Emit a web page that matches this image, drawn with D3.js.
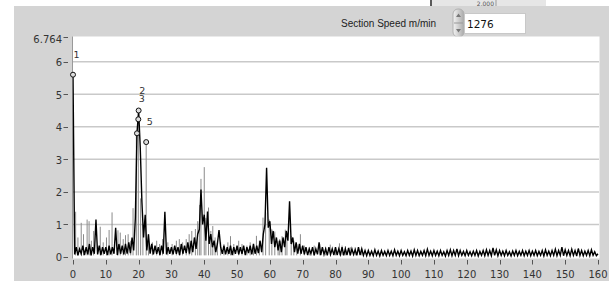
<!DOCTYPE html>
<html>
<head>
<meta charset="utf-8">
<script src="https://cdn.jsdelivr.net/npm/d3@7"></script>
<style>
  body { margin: 0; background: #fff; }
  svg { display: block; }
</style>
</head>
<body>
<div id="chart"></div>
<script>
// spectrum trace, one sample every 0.5 from 0 to 160
const freqStep = 0.5;
const blackAmp = [
  5.6, 0.08, 0.3, 0.05, 0.25, 0.1, 0.35, 0.06, 0.3, 0.08, 0.4, 0.05, 0.3, 0.1, 1.15, 0.08, 0.35, 0.06, 0.3, 0.1,
  0.3, 0.06, 0.35, 0.08, 0.3, 0.1, 0.9, 0.06, 0.4, 0.1, 0.35, 0.08, 0.4, 0.1, 0.45, 0.12, 0.6, 0.2, 1.2, 3.8,
  4.5, 3.35, 1.7, 0.6, 1.3, 0.2, 0.7, 0.1, 0.4, 0.08, 0.35, 0.1, 0.3, 0.06, 0.35, 0.1, 1.39, 0.08, 0.3, 0.1,
  0.3, 0.08, 0.35, 0.1, 0.3, 0.06, 0.4, 0.1, 0.35, 0.12, 0.45, 0.1, 0.5, 0.15, 0.6, 0.25, 0.7, 0.85, 2.07, 1.0,
  1.3, 0.5, 1.4, 0.4, 0.7, 0.3, 0.5, 0.15, 0.4, 0.83, 0.3, 0.1, 0.35, 0.08, 0.3, 0.1, 0.35, 0.06, 0.3, 0.1,
  0.35, 0.08, 0.3, 0.1, 0.35, 0.06, 0.3, 0.12, 0.35, 0.08, 0.4, 0.1, 0.35, 0.12, 0.5, 0.15, 0.7, 1.0, 2.74, 0.9,
  1.1, 0.4, 0.8, 0.3, 0.6, 0.2, 0.5, 0.15, 0.6, 0.3, 0.8, 0.5, 1.71, 0.4, 0.6, 0.15, 0.45, 0.1, 0.4, 0.1,
  0.35, 0.08, 0.3, 0.06, 0.25, 0.1, 0.3, 0.05, 0.25, 0.08, 0.45, 0.06, 0.3, 0.08, 0.25, 0.05, 0.3, 0.08, 0.25, 0.06,
  0.3, 0.06, 0.25, 0.08, 0.3, 0.05, 0.25, 0.06, 0.28, 0.05, 0.25, 0.08, 0.22, 0.05, 0.3, 0.06, 0.25, 0.05, 0.2, 0.04,
  0.2, 0.05, 0.18, 0.04, 0.22, 0.05, 0.18, 0.03, 0.2, 0.05, 0.17, 0.04, 0.2, 0.05, 0.18, 0.04, 0.22, 0.05, 0.18, 0.04,
  0.2, 0.05, 0.16, 0.04, 0.2, 0.05, 0.18, 0.03, 0.22, 0.05, 0.2, 0.04, 0.17, 0.05, 0.2, 0.04, 0.24, 0.05, 0.18, 0.04,
  0.2, 0.05, 0.18, 0.04, 0.2, 0.05, 0.16, 0.03, 0.2, 0.05, 0.22, 0.04, 0.2, 0.05, 0.25, 0.04, 0.2, 0.05, 0.17, 0.04,
  0.2, 0.05, 0.16, 0.04, 0.18, 0.05, 0.2, 0.03, 0.17, 0.05, 0.2, 0.04, 0.22, 0.05, 0.2, 0.04, 0.28, 0.05, 0.22, 0.04,
  0.2, 0.05, 0.18, 0.04, 0.2, 0.05, 0.16, 0.03, 0.18, 0.05, 0.2, 0.04, 0.17, 0.05, 0.2, 0.04, 0.18, 0.05, 0.2, 0.04,
  0.18, 0.05, 0.2, 0.04, 0.17, 0.05, 0.2, 0.03, 0.22, 0.05, 0.18, 0.04, 0.2, 0.05, 0.24, 0.04, 0.2, 0.05, 0.3, 0.04,
  0.22, 0.05, 0.2, 0.04, 0.24, 0.05, 0.2, 0.03, 0.26, 0.05, 0.2, 0.04, 0.18, 0.05, 0.2, 0.04, 0.22, 0.05, 0.16, 0.04, 0.1
];

// second (grey) trace, its spikes
const greyFreq = [
  0.8, 1.5, 2.5, 3.2, 4.3, 4.9, 5.6, 6.3, 8.3, 9.2, 10.2, 11.0, 11.9, 13.7, 14.4, 15.3, 16.0, 16.8, 17.6, 18.3,
  19.3, 19.9, 20.6, 21.3, 22.3, 23.0, 24.2, 25.5, 26.4, 27.3, 28.9, 30.2, 31.5, 32.4, 33.4, 34.5, 35.4, 36.2, 37.3, 38.0,
  38.6, 39.0, 40.0, 40.5, 41.3, 42.0, 42.6, 43.3, 44.0, 45.0, 46.0, 47.2, 48.0, 49.0, 50.5, 51.5, 53.0, 54.0, 55.0, 55.9,
  56.8, 57.9, 58.7, 59.8, 60.6, 61.5, 62.5, 63.0, 63.7, 64.7, 65.2, 66.5, 67.3, 68.2, 69.3, 70.5, 72.0, 73.5, 75.2, 77.0,
  78.4, 80.0, 81.2, 82.0, 83.0, 84.5, 86.0, 88.0
];
const greyAmp = [
  1.39, 0.6, 1.05, 0.7, 1.15, 1.1, 0.5, 0.8, 0.93, 0.45, 0.6, 0.83, 1.37, 0.82, 0.75, 0.55, 0.67, 0.7, 0.5, 1.5,
  3.77, 4.23, 1.8, 1.0, 3.53, 0.7, 0.45, 0.5, 0.4, 0.55, 0.45, 0.4, 0.5, 0.55, 0.45, 0.55, 0.7, 0.8, 0.86, 1.1,
  1.6, 2.4, 2.76, 1.2, 1.52, 0.8, 0.95, 0.6, 0.5, 0.45, 0.4, 0.45, 0.64, 0.4, 0.5, 0.4, 0.35, 0.45, 0.4, 0.65,
  0.5, 1.21, 1.36, 1.15, 0.85, 0.78, 0.5, 0.55, 0.64, 0.84, 0.75, 0.65, 0.5, 0.4, 0.7, 0.35, 0.3, 0.35, 0.4, 0.3,
  0.38, 0.3, 0.42, 0.35, 0.33, 0.3, 0.3, 0.25
];

const markerFreq = [0, 20, 19.9, 19.5, 22.3];
const markerAmp = [5.6, 4.5, 4.23, 3.8, 3.53];
const markerLabel = ["1", "2", "3", "", "5"];

const xTicks = [0, 10, 20, 30, 40, 50, 60, 70, 80, 90, 100, 110, 120, 130, 140, 150, 160];
const yTicks = [0, 1, 2, 3, 4, 5, 6];
const yMax = 6.764;
const speedLabel = "Section Speed m/min";
const speedValue = "1276";

const width = 609, height = 281;

const svg = d3.select("#chart")
  .append("svg")
  .attr("width", width)
  .attr("height", height);

// grey front panel
svg.append("rect")
  .attr("x", 14).attr("y", 6)
  .attr("width", width - 14).attr("height", height - 6)
  .attr("fill", "#d4d4d4");

// piece of the other control showing above the panel
svg.append("rect")
  .attr("x", 432).attr("y", 0).attr("width", 114).attr("height", 6)
  .attr("fill", "#e6e6e6");
svg.append("line")
  .attr("x1", 431).attr("x2", 431).attr("y1", 0).attr("y2", 6)
  .attr("stroke", "#222").attr("stroke-width", 1.5);
svg.append("text")
  .attr("x", 494).attr("y", 5.5)
  .attr("text-anchor", "end")
  .style("font", "6px 'DejaVu Sans'")
  .attr("fill", "#555")
  .text("2.000");
svg.append("line")
  .attr("x1", 496).attr("x2", 496).attr("y1", 0).attr("y2", 6)
  .attr("stroke", "#999");

// speed control
svg.append("text")
  .attr("x", 341).attr("y", 27)
  .style("font", "10px 'Liberation Sans'")
  .attr("fill", "#222")
  .text(speedLabel);

const grad = svg.append("defs").append("linearGradient")
  .attr("id", "spin").attr("x1", 0).attr("x2", 1);
grad.append("stop").attr("offset", 0).attr("stop-color", "#f4f4f4");
grad.append("stop").attr("offset", 1).attr("stop-color", "#a9a9a9");

svg.append("rect")
  .attr("x", 453).attr("y", 9).attr("width", 11).attr("height", 28).attr("rx", 5)
  .attr("fill", "url(#spin)").attr("stroke", "#b0b0b0");
svg.append("line")
  .attr("x1", 454).attr("x2", 463).attr("y1", 23).attr("y2", 23)
  .attr("stroke", "#999");
svg.append("path")
  .attr("d", "M456,17 L458.5,13.5 L461,17 Z M456,29 L458.5,32.5 L461,29 Z")
  .attr("fill", "#777");

svg.append("rect")
  .attr("x", 464.5).attr("y", 13.5).attr("width", 61).attr("height", 20)
  .attr("fill", "#fff").attr("stroke", "#c8c8c8");
svg.append("text")
  .attr("x", 467).attr("y", 28)
  .style("font", "10.5px 'DejaVu Sans'")
  .attr("fill", "#111")
  .text(speedValue);

// plot
const x = d3.scaleLinear().domain([0, 160]).range([73, 598]);
const y = d3.scaleLinear().domain([0, yMax]).range([257, 36.8]);

svg.append("rect")
  .attr("x", 72.5).attr("y", 36.5)
  .attr("width", 527).attr("height", 222)
  .attr("fill", "#fff");
svg.append("line")
  .attr("x1", 72.5).attr("x2", 72.5).attr("y1", 36.5).attr("y2", 258.5)
  .attr("stroke", "#999");

svg.append("defs").append("clipPath").attr("id", "plotClip")
  .append("rect")
  .attr("x", 72.5).attr("y", 36.5)
  .attr("width", 527).attr("height", 222);

svg.append("g")
  .selectAll("line")
  .data(yTicks.slice(1))
  .join("line")
  .attr("x1", 73).attr("x2", 599)
  .attr("y1", d => y(d)).attr("y2", d => y(d))
  .attr("stroke", "#c9c9c9")
  .attr("stroke-width", 1.5);

// y axis ticks and labels
const yAxis = svg.append("g").attr("fill", "#333").style("font", "10px 'DejaVu Sans'");
const yAll = yTicks.concat([yMax]);
yAxis.selectAll("line")
  .data(yAll)
  .join("line")
  .attr("x1", 63.5).attr("x2", 68)
  .attr("y1", d => Math.round(y(d)) + 0.5).attr("y2", d => Math.round(y(d)) + 0.5)
  .attr("stroke", "#555");
yAxis.selectAll("text")
  .data(yAll)
  .join("text")
  .attr("x", 62)
  .attr("y", d => y(d) + (d === yMax ? 6.5 : 4.3))
  .attr("text-anchor", "end")
  .text(d => d === yMax ? "6.764" : d);

// x axis ticks and labels
const xAxis = svg.append("g").attr("fill", "#333").style("font", "10px 'DejaVu Sans'");
xAxis.selectAll("line")
  .data(xTicks)
  .join("line")
  .attr("x1", d => Math.round(x(d)) + 0.5).attr("x2", d => Math.round(x(d)) + 0.5)
  .attr("y1", 260).attr("y2", 264.5)
  .attr("stroke", "#555");
xAxis.selectAll("text")
  .data(xTicks)
  .join("text")
  .attr("x", d => x(d))
  .attr("y", 278)
  .attr("text-anchor", "middle")
  .text(d => d);

const plot = svg.append("g").attr("clip-path", "url(#plotClip)");

// grey trace drawn as stems
plot.append("g")
  .selectAll("line")
  .data(greyFreq)
  .join("line")
  .attr("x1", d => x(d)).attr("x2", d => x(d))
  .attr("y1", y(0.05))
  .attr("y2", (d, i) => y(greyAmp[i]))
  .attr("stroke", "#8a8a8a")
  .attr("stroke-width", 1);

const line = d3.line()
  .x((d, i) => x(i * freqStep))
  .y(d => y(d));

plot.append("path")
  .datum(blackAmp)
  .attr("d", line)
  .attr("fill", "none")
  .attr("stroke", "#000")
  .attr("stroke-width", 1.4)
  .attr("stroke-linejoin", "miter");

// peak markers
const markers = svg.append("g");
markers.selectAll("circle")
  .data(markerFreq)
  .join("circle")
  .attr("cx", d => x(d))
  .attr("cy", (d, i) => y(markerAmp[i]))
  .attr("r", 2.5)
  .attr("fill", "#ddd")
  .attr("stroke", "#111")
  .attr("stroke-width", 1);
markers.selectAll("text")
  .data(markerFreq)
  .join("text")
  .attr("x", d => x(d) + 0.5)
  .attr("y", (d, i) => y(markerAmp[i]) - 17)
  .style("font", "9.5px 'DejaVu Sans'")
  .attr("fill", "#333")
  .text((d, i) => markerLabel[i]);
</script>
</body>
</html>
